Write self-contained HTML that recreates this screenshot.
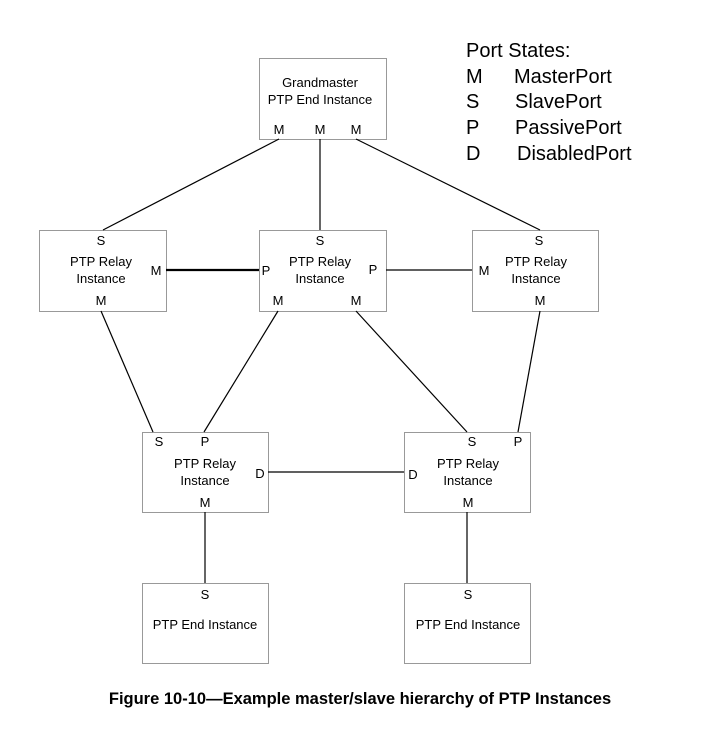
<!DOCTYPE html>
<html><head><style>body{margin:0;background:#fff}svg{display:block}</style></head><body>
<svg width="704" height="731" viewBox="0 0 704 731" xmlns="http://www.w3.org/2000/svg" font-family="Liberation Sans, Arial, sans-serif">
<g fill="none" stroke="#999" stroke-width="1">
<rect x="259.5" y="58.5" width="127" height="81"/>
<rect x="39.5" y="230.5" width="127" height="81"/>
<rect x="259.5" y="230.5" width="127" height="81"/>
<rect x="472.5" y="230.5" width="126" height="81"/>
<rect x="142.5" y="432.5" width="126" height="80"/>
<rect x="404.5" y="432.5" width="126" height="80"/>
<rect x="142.5" y="583.5" width="126" height="80"/>
<rect x="404.5" y="583.5" width="126" height="80"/>
</g>
<g stroke="#000" stroke-width="1.2" fill="none">
<line x1="279" y1="139" x2="103" y2="230"/>
<line x1="320" y1="139" x2="320" y2="230"/>
<line x1="356" y1="139" x2="540" y2="230"/>
<line x1="166" y1="270" x2="259" y2="270" stroke-width="2.2"/>
<line x1="386" y1="270" x2="472" y2="270"/>
<line x1="101" y1="311" x2="153" y2="432"/>
<line x1="278" y1="311" x2="204" y2="432"/>
<line x1="356" y1="311" x2="467" y2="432"/>
<line x1="540" y1="311" x2="518" y2="432"/>
<line x1="268" y1="472" x2="404" y2="472"/>
<line x1="205" y1="512" x2="205" y2="583"/>
<line x1="467" y1="512" x2="467" y2="583"/>
</g>
<g font-size="13" fill="#000" text-anchor="middle">
<text x="320" y="87">Grandmaster</text>
<text x="320" y="104">PTP End Instance</text>
<text x="279" y="134">M</text><text x="320" y="134">M</text><text x="356" y="134">M</text>
<text x="101" y="245">S</text><text x="101" y="266">PTP Relay</text><text x="101" y="283">Instance</text><text x="101" y="305">M</text><text x="156" y="275">M</text>
<text x="320" y="245">S</text><text x="320" y="266">PTP Relay</text><text x="320" y="283">Instance</text><text x="278" y="305">M</text><text x="356" y="305">M</text><text x="266" y="275">P</text><text x="373" y="274">P</text>
<text x="539" y="245">S</text><text x="536" y="266">PTP Relay</text><text x="536" y="283">Instance</text><text x="540" y="305">M</text><text x="484" y="275">M</text>
<text x="159" y="446">S</text><text x="205" y="446">P</text><text x="205" y="468">PTP Relay</text><text x="205" y="485">Instance</text><text x="205" y="507">M</text><text x="260" y="478">D</text>
<text x="472" y="446">S</text><text x="518" y="446">P</text><text x="468" y="468">PTP Relay</text><text x="468" y="485">Instance</text><text x="468" y="507">M</text><text x="413" y="479">D</text>
<text x="205" y="599">S</text><text x="205" y="629">PTP End Instance</text>
<text x="468" y="599">S</text><text x="468" y="629">PTP End Instance</text>
</g>
<g font-size="20" fill="#000">
<text x="466" y="57">Port States:</text>
<text x="466" y="83">M</text><text x="514" y="83">MasterPort</text>
<text x="466" y="108">S</text><text x="515" y="108">SlavePort</text>
<text x="466" y="134">P</text><text x="515" y="134">PassivePort</text>
<text x="466" y="160">D</text><text x="517" y="160">DisabledPort</text>
</g>
<text x="360" y="704" font-size="16.5" font-weight="bold" text-anchor="middle">Figure 10-10—Example master/slave hierarchy of PTP Instances</text>
</svg>
</body></html>
